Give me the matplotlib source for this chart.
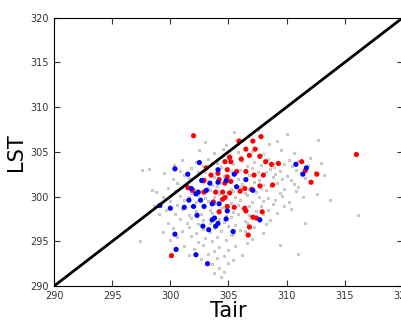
import matplotlib
matplotlib.use("Agg")
import matplotlib.pyplot as plt

# grey background points (Tair, LST)
gray_x = [305.5, 306.8, 307.5, 310.0,
          303.0, 304.8, 306.0, 308.5, 309.2, 312.7,
          302.5, 303.8, 304.5, 305.8, 307.0, 308.0, 309.5, 310.6,
          301.0, 302.2, 303.2, 304.0, 305.0, 306.2, 307.2, 308.4, 309.0, 310.2, 311.0, 312.0, 313.0,
          300.3, 302.8, 303.6, 304.4, 305.4, 306.6, 307.8, 308.9, 309.8, 310.5, 311.8,
          297.6, 298.2, 300.8, 301.8, 303.0, 304.2, 305.2, 306.0, 307.0, 307.5, 308.6, 309.4, 310.8, 312.4,
          299.5, 301.2, 302.4, 303.4, 304.6, 305.6, 306.8, 308.2, 309.0, 310.0, 311.2, 313.2,
          300.2, 301.6, 302.6, 303.8, 304.8, 305.8, 306.4, 307.6, 308.8, 309.6, 310.4, 311.6,
          298.4, 300.6, 301.4, 302.8, 303.6, 304.4, 305.0, 306.2, 307.2, 308.0, 309.2, 310.6, 312.0,
          299.8, 301.0, 302.0, 303.2, 304.0, 305.2, 306.0, 306.8, 307.8, 308.6, 309.8, 311.0,
          298.8, 300.4, 301.8, 302.6, 303.4, 304.2, 305.4, 306.4, 307.4, 308.2, 309.4, 310.8, 312.6,
          299.4, 300.8, 301.6, 302.4, 303.0, 303.8, 304.8, 305.6, 306.6, 307.6, 308.4, 309.6, 311.4,
          300.0, 301.2, 302.2, 303.2, 304.4, 305.2, 306.0, 307.0, 308.0, 309.0, 310.2, 313.7,
          298.6, 300.6, 301.8, 302.8, 303.8, 304.6, 305.8, 306.8, 307.8, 308.8, 309.8,
          299.6, 301.0, 302.2, 303.4, 304.4, 305.4, 306.2, 307.4, 308.4, 310.4,
          299.0, 300.4, 301.6, 302.6, 303.6, 304.8, 305.8, 306.8, 308.0, 309.2, 316.1,
          300.8, 301.8, 302.8, 304.2, 305.2, 306.4, 307.6, 308.6,
          299.8, 301.4, 302.4, 303.4, 304.6, 305.6, 306.6, 308.2, 311.6,
          300.2, 301.6, 302.8, 303.8, 305.0, 306.0, 307.2,
          299.4, 301.0, 302.2, 303.4, 304.4, 305.4, 306.4, 308.0,
          300.6, 301.8, 303.0, 304.0, 305.2, 307.0,
          297.4, 300.0, 302.4, 303.6, 304.8, 306.6,
          301.2, 302.8, 304.2, 305.6, 309.4,
          300.4, 302.0, 303.8, 305.0,
          301.6, 303.2, 304.6, 306.2, 311.0,
          302.6, 304.0, 305.4,
          303.6, 305.0,
          304.2,
          303.8, 304.6,
          304.4]
gray_y = [307.2, 306.9, 307.4, 307.0,
          306.1, 305.8, 306.3, 305.9, 306.2, 306.3,
          305.2, 304.9, 305.3, 305.0, 305.1, 304.8, 305.2, 304.9,
          304.1, 303.9, 304.2, 303.8, 304.3, 304.0, 303.9, 304.2, 303.8, 304.1, 304.0, 304.3, 303.7,
          303.5, 303.4, 303.7, 303.3, 303.6, 303.4, 303.5, 303.3, 303.6, 303.4, 303.5,
          303.0, 303.1, 302.9, 303.2, 302.8, 303.1, 302.9, 303.0, 303.2, 302.8, 303.1, 302.9, 303.0, 302.8,
          302.6, 302.4, 302.7, 302.5, 302.3, 302.6, 302.4, 302.7, 302.5, 302.3, 302.6, 302.4,
          302.0, 302.1, 301.9, 302.2, 301.8, 302.0, 302.1, 301.9, 302.2, 302.0, 301.8, 302.1,
          300.7, 301.5, 301.4, 301.6, 301.3, 301.5, 301.7, 301.4, 301.6, 301.3, 301.5, 301.4, 301.6,
          301.0, 301.1, 300.9, 301.0, 301.2, 300.8, 301.1, 300.9, 301.0, 301.2, 300.9, 301.1,
          300.5, 300.6, 300.4, 300.5, 300.7, 300.3, 300.6, 300.4, 300.5, 300.7, 300.4, 300.6, 300.3,
          300.0, 300.1, 299.9, 300.2, 299.8, 300.0, 300.1, 299.9, 300.2, 300.0, 299.8, 300.1, 299.9,
          299.5, 299.6, 299.4, 299.5, 299.7, 299.3, 299.6, 299.4, 299.5, 299.6, 299.4, 299.6,
          299.0, 299.1, 298.9, 299.0, 299.2, 298.8, 299.1, 298.9, 299.0, 299.2, 298.9,
          298.5, 298.6, 298.4, 298.5, 298.7, 298.3, 298.6, 298.4, 298.5, 298.6,
          298.0, 298.1, 297.9, 298.0, 298.2, 297.8, 298.1, 297.9, 298.0, 298.2, 297.9,
          297.5, 297.6, 297.4, 297.5, 297.7, 297.3, 297.6, 297.4,
          297.0, 297.1, 296.9, 297.0, 297.2, 296.8, 297.1, 296.9, 297.0,
          296.5, 296.6, 296.4, 296.5, 296.7, 296.3, 296.6,
          296.0, 296.1, 295.9, 296.0, 296.2, 295.8, 296.1, 295.9,
          295.5, 295.6, 295.4, 295.5, 295.7, 295.3,
          295.0, 295.1, 294.9, 295.0, 295.2, 294.8,
          294.5, 294.6, 294.4, 294.5, 294.6,
          294.0, 294.1, 293.9, 294.0,
          293.5, 293.6, 293.4, 293.5, 293.6,
          293.0, 293.1, 292.9,
          292.5, 292.6,
          292.0,
          291.5, 291.6,
          291.0]

red_x = [302.0, 305.9, 307.1, 307.8, 306.5, 307.3, 305.1, 304.7, 305.2, 306.1,
         306.8, 307.7, 308.2, 308.7, 309.3, 311.3, 311.6, 312.6, 312.1, 303.1,
         303.5, 302.9, 304.1, 304.2, 304.9, 305.7, 304.9, 306.5, 307.2, 308.0,
         304.7, 305.2, 306.4, 307.0, 307.7, 308.8, 303.9, 304.5, 305.1, 301.5,
         301.9, 302.9, 303.7, 304.5, 304.7, 304.9, 305.5, 306.5, 306.4, 307.1,
         307.4, 307.9, 306.8, 306.7, 304.2, 300.1, 306.0, 316.0]
red_y = [306.8, 306.2, 306.2, 306.7, 305.3, 305.3, 304.4, 303.9, 303.9, 304.2,
         304.6, 304.5, 303.9, 303.6, 303.7, 303.9, 302.9, 302.5, 301.6, 303.2,
         302.4, 301.8, 302.6, 301.9, 303.0, 302.8, 302.2, 302.8, 302.4, 302.4,
         301.5, 301.7, 300.9, 300.8, 301.2, 301.3, 300.5, 300.5, 300.4, 301.0,
         300.7, 300.5, 299.4, 299.7, 299.9, 298.9, 298.8, 298.4, 298.7, 297.7,
         297.6, 298.3, 296.6, 295.7, 298.3, 293.4, 300.6, 304.7]

blue_x = [302.5, 300.4, 301.5, 304.1, 302.7, 303.4, 304.1, 304.8, 305.5, 306.5,
          305.7, 307.1, 310.8, 311.7, 311.4, 301.8, 302.4, 302.2, 303.1, 302.6,
          302.9, 303.6, 304.2, 304.9, 301.6, 302.0, 301.2, 300.0, 299.1, 302.3,
          303.8, 304.1, 304.8, 302.8, 303.3, 305.4, 307.7, 300.4, 300.5, 302.2,
          303.2, 303.6, 303.9]
blue_y = [303.8, 303.1, 302.5, 303.0, 301.8, 301.5, 301.6, 301.8, 302.5, 301.9,
          301.1, 300.7, 303.6, 303.2, 302.5, 300.9, 300.5, 300.3, 300.7, 299.6,
          298.9, 299.2, 299.2, 298.4, 299.6, 298.9, 298.8, 298.7, 299.0, 297.9,
          297.6, 297.0, 297.5, 296.7, 296.3, 296.1, 297.4, 295.8, 294.1, 293.5,
          292.5, 297.4, 296.7]

lims = [290, 320]

fig = plt.figure(figsize=(4.01, 3.2), dpi=100)
ax = fig.add_axes([0.1347, 0.106, 0.870, 0.839])

ax.scatter(gray_x, gray_y, s=3.5, c='lightgray', alpha=0.7, edgecolors='dimgray', linewidths=0.3, zorder=2)
ax.scatter(red_x, red_y, s=14, c='red', edgecolors='none', zorder=3)
ax.scatter(blue_x, blue_y, s=14, c='blue', edgecolors='none', zorder=3)
ax.plot(lims, lims, color='k', lw=2, zorder=4)

ax.set_xlim(lims)
ax.set_ylim(lims)
ax.set_xticks(range(290, 321, 5))
ax.set_yticks(range(290, 321, 5))
ax.tick_params(direction='in', top=True, right=True, labelsize=7, length=4, colors='#333333')
ax.set_xlabel('Tair', fontsize=15, labelpad=0)
ax.set_ylabel('LST', fontsize=15, labelpad=3)

fig.savefig('out.png', dpi=100)
